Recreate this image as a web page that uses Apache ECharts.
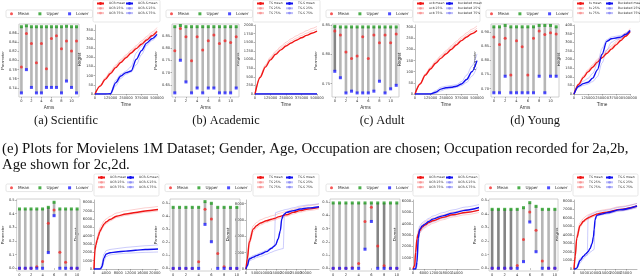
<!DOCTYPE html>
<html><head><meta charset="utf-8">
<script src="https://cdn.jsdelivr.net/npm/echarts@6/dist/echarts.min.js"></script>
<style>html,body{margin:0;padding:0;background:#fff}#c{width:640px;height:280px}</style>
</head><body><div id="c"></div><script>
// ---------------- data ----------------
const armsTop = ['0','1','2','3','4','5','6','7','8','9','10','11'];
const armsBottom = ['0','1','2','3','4','5','6','7','8','9','10'];
const boundNames = ['Mean','Upper','Lower'];

// (a) Scientific
const aUpper = [0.874,0.876,0.874,0.874,0.874,0.874,0.874,0.874,0.874,0.875,0.874,0.874];
const aMean  = [0.786,0.859,0.837,0.795,0.837,0.782,0.848,0.854,0.826,0.843,0.821,0.843];
const aLower = [0.729,0.780,0.741,0.729,0.729,0.741,0.741,0.741,0.729,0.755,0.741,0.729];
const aShade = [0,0,0,0,0,0,0,0,0,0,0,0];
const aParamTicks = [0.74,0.76,0.78,0.80,0.82,0.84,0.86];
// (b) Academic
const bUpper = [0.889,0.894,0.889,0.889,0.889,0.889,0.889,0.889,0.889,0.889,0.889,0.889];
const bMean  = [0.790,0.882,0.848,0.749,0.848,0.793,0.831,0.855,0.820,0.831,0.824,0.848];
const bLower = [0.617,0.751,0.662,0.617,0.637,0.617,0.637,0.637,0.617,0.617,0.617,0.637];
const bShade = [0,0,0,0,0,0,0,0,0,0,0,0];
const bParamTicks = [0.65,0.70,0.75,0.80,0.85];
// (c) Adult
const cUpper = [0.848,0.847,0.847,0.847,0.847,0.847,0.847,0.847,0.847,0.847,0.847,0.847];
const cMean  = [0.840,0.833,0.804,0.793,0.797,0.830,0.793,0.833,0.820,0.833,0.820,0.835];
const cLower = [0.771,0.760,0.734,0.737,0.734,0.734,0.734,0.737,0.754,0.734,0.741,0.747];
const cShade = [1,0,0,0,0,0,0,0,0,0,0,0];
const cParamTicks = [0.75,0.80,0.85];
// (d) Young
const dUpper = [0.920,0.920,0.925,0.920,0.920,0.920,0.920,0.920,0.925,0.925,0.925,0.920];
const dMean  = [0.884,0.857,0.879,0.748,0.870,0.849,0.748,0.879,0.905,0.893,0.899,0.894];
const dLower = [0.685,0.685,0.744,0.685,0.685,0.685,0.685,0.685,0.744,0.685,0.744,0.744];
const dShade = [0,0,0,0,0,0,0,0,0,0,0,0];
const dParamTicks = [0.70,0.75,0.80,0.85,0.90];
// bottom row (e1..e4)
const e1Upper = [0.434,0.434,0.434,0.434,0.434,0.446,0.483,0.434,0.434,0.434,0.434];
const e1Mean  = [0,0,0,0.012,0.049,0.329,0.427,0.117,0.044,0,0];
const e1Lower = [0,0,0,0,0,0.115,0.385,0,0,0,0];
const e1Shade = [0,0,0,0,0,1,0,0,0,0,0];
const e2Upper = [0.469,0.469,0.469,0.469,0.469,0.513,0.500,0.469,0.469,0.469,0.469];
const e2Mean  = [0,0,0,0,0.051,0.454,0.379,0.115,0.013,0,0];
const e2Lower = [0,0,0,0,0,0.338,0.205,0,0,0,0];
const e2Shade = [0,0,0,0,0,0,0,0,0,0,0];
const e3Upper = [0.495,0.495,0.495,0.495,0.495,0.495,0.495,0.495,0.495,0.495,0.495];
const e3Mean  = [0,0,0,0.005,0.0375,0.355,0.4625,0.17,0.02,0,0];
const e3Lower = [0,0,0,0,0,0.145,0.355,0,0,0,0];
const e3Shade = [0,0,0,0,0,0,0,1,1,0,0];
const e4Upper = [0.434,0.434,0.434,0.434,0.434,0.446,0.483,0.456,0.434,0.434,0.434];
const e4Mean  = [0,0,0,0,0.02,0.212,0.415,0.28,0.054,0,0];
const e4Lower = [0,0,0,0,0,0.049,0.341,0.122,0,0,0];
const e4Shade = [1,1,1,1,0,0,0,0,0,0,0];
const eParamTicks = [0,0.1,0.2,0.3,0.4,0.5];

// regret curves (time in % of horizon)
const timeTop = [0,8.33,16.67,25,33.33,41.67,50,58.33,66.67,75,83.33,91.67,100];
const timeTopTicks = [0,25,50,75,100];
const timeTopLabels = ['0','125000','250000','375000','500000'];

const namesA = ['UCB mean','UCB 25%','UCB 75%','UCB-S mean','UCB-S 25%','UCB-S 75%'];
const aRegMean = [0,43,80,112,144,172,198,224,248,272,295,318,342];
const aReg25   = [0,45,85,118,150,180,206,232,256,280,304,327,352];
const aReg75   = [0,48,90,125,158,188,214,240,265,290,314,338,363];
const aSMean   = [0,0,0,1,61,98,117,126,190,237,278,302,326];
const aS25     = [0,0,0,0,45,85,108,120,160,215,265,292,315];
const aS75     = [0,0,0,2,75,108,125,150,225,262,292,312,335];
const aRegTicks = [0,50,100,150,200,250,300,350];

const namesB = ['TS mean','TS 25%','TS 75%','TS-S mean','TS-S 25%','TS-S 75%'];
const bRegMean = [0,480,780,990,1150,1280,1390,1480,1560,1630,1700,1760,1820];
const bReg25   = [0,500,810,1030,1195,1330,1445,1540,1620,1695,1765,1830,1890];
const bReg75   = [0,520,840,1070,1240,1380,1500,1600,1685,1760,1835,1900,1960];
const bSMean   = [0,0,0,0,0,0,0,0,0,0,0,0,0];
const bS25     = [0,0,0,0,0,0,0,0,0,0,0,0,0];
const bS75     = [0,4,6,8,8,9,10,10,10,11,11,12,12];
const bRegTicks = [0,250,500,750,1000,1250,1500,1750,2000];

const namesC = ['ucb mean','ucb 25%','ucb 75%','bucketed mean','bucketed 25%','bucketed 75%'];
const cRegMean = [0,45,85,112,138,160,180,200,220,240,256,271,285];
const cReg25   = [0,47,88,117,144,167,188,209,229,249,266,281,296];
const cReg75   = [0,49,91,121,149,173,195,216,237,257,275,291,306];
const cSMean   = [0,0,0,0,8,22,28,30,35,45,65,100,150];
const cS25     = [0,0,0,0,3,14,22,25,30,38,52,80,120];
const cS75     = [0,0,0,1,15,30,35,38,42,55,85,125,180];
const cRegTicks = [0,50,100,150,200,250,300];

const namesD = ['ts mean','ts 25%','ts 75%','Bucketed mean','Bucketed 25%','Bucketed 75%'];
const dRegMean = [0,55,95,128,155,185,210,235,260,285,310,335,362];
const dReg25   = [0,58,100,134,162,193,219,244,269,294,319,344,370];
const dReg75   = [0,62,106,141,170,201,228,254,279,304,329,354,380];
const dSMean   = [0,45,60,68,92,140,230,305,320,325,330,345,368];
const dS25     = [0,38,50,58,72,100,180,255,300,315,322,338,362];
const dS75     = [0,55,75,90,120,175,265,315,330,335,340,352,372];
const dRegTicks = [0,50,100,150,200,250,300,350,400];

const namesE1 = ['UCB mean','UCB 25%','UCB 75%','UCB-S mean','UCB-S 25%','UCB-S 75%'];
const timeE1 = [0,1.5,3,5,7,9,10.5,12.5,15.5,19,25,35,50,65,80,100];
const e1RegMean = [0,2300,2900,3500,4000,4500,4700,5000,5400,5650,5950,6350,6620,6800,6980,7150];
const e1Reg25   = [0,2100,2700,3300,3800,4300,4500,4800,5200,5450,5780,6180,6450,6640,6820,6990];
const e1Reg75   = [0,2600,3250,3850,4380,4880,5080,5380,5780,6030,6330,6730,7000,7180,7360,7530];
const e1SMean   = [0,0,0,0,0,0,50,300,1300,1800,1950,2050,2150,2250,2350,2400];
const e1S25     = [0,0,0,0,0,0,0,100,900,1500,1700,1800,1900,1950,2000,2050];
const e1S75     = [0,0,0,0,0,20,200,700,1800,2200,2350,2450,2600,2700,2800,2900];
const e1TimeTicks = [0,19,38,57,76,95];
const e1TimeLabels = ['0','4000','8000','12000','16000','20000'];
const e1RegTicks = [0,1000,2000,3000,4000,5000,6000,7000,8000];

const namesE2 = ['TS mean','TS 25%','TS 75%','TS-S mean','TS-S 25%','TS-S 75%'];
const timeE2 = [0,1.8,4.5,10,14.5,20,28,35,38.6,40.5,44,47,49,51,52.7,55.5,65,74,85,100];
const e2RegMean = [0,1224,3300,4898,5300,5633,5900,6100,6180,6230,6380,6450,6500,6550,6600,6650,6939,7150,7350,7551];
const e2Reg25   = [0,1000,3000,4600,5050,5400,5700,5900,5980,6030,6180,6250,6300,6350,6400,6450,6740,6950,7150,7350];
const e2Reg75   = [0,1500,3700,5300,5700,6030,6300,6500,6580,6630,6780,6850,6900,6950,7000,7050,7330,7550,7750,7950];
const e2SMean   = [0,400,1224,1450,1632,1820,2122,2550,2800,2950,3673,4694,6122,6550,6734,6939,7150,7350,7480,7630];
const e2S25     = [0,300,1000,1200,1400,1550,1800,2050,2200,2250,2350,2420,2470,2500,6700,6900,7050,7200,7350,7500];
const e2S75     = [0,600,1400,1650,1800,2000,2300,2600,2800,6900,7000,7100,7150,7200,7250,7300,7500,7700,7850,8000];
const e2TimeTicks = [0,13.6,27.3,40.9,54.5,68.2,81.8,95.5];
const e2TimeLabels = ['0','5000','10000','15000','20000','25000','30000','35000'];
const e2RegTicks = [0,2000,4000,6000,8000];

const namesE3 = ['UCB mean','UCB 25%','UCB 75%','UCB-S mean','UCB-S 25%','UCB-S 75%'];
const timeE3 = [0,2.5,4,6,8,10,14,18,24,30,45,60,80,100];
const e3RegMean = [0,300,1470,2650,3100,3380,3700,3880,4100,4260,4560,4790,5000,5200];
const e3Reg25   = [0,200,1200,2400,2850,3150,3450,3650,3850,4050,4350,4600,4800,5000];
const e3Reg75   = [0,400,1800,2950,3400,3650,3950,4150,4350,4500,4800,5050,5250,5450];
const e3SMean   = [0,0,0,600,2700,3500,3800,3970,4200,4410,4700,4940,5200,5440];
const e3S25     = [0,0,0,200,2200,3200,3550,3750,3980,4180,4480,4720,4980,5200];
const e3S75     = [0,0,0,1200,3100,3800,4100,4250,4480,4680,4980,5220,5480,5700];
const e3TimeTicks = [0,16.7,33.3,50,66.7,83.3];
const e3TimeLabels = ['0','6000','12000','18000','24000','30000'];
const e3RegTicks = [0,1000,2000,3000,4000,5000,6000];

const namesE4 = ['TS mean','TS 25%','TS 75%','TS-S mean','TS-S 25%','TS-S 75%'];
const timeE4 = [0,2,4.3,9.6,15,19,21,22.5,25.5,28.7,30.9,31.9,33.5,36,44,52,73,100];
const e4RegMean = [0,1500,3600,5100,5600,5850,5950,6000,6120,6220,6300,6330,6380,6450,6580,6680,7000,7400];
const e4Reg25   = [0,1300,3400,4900,5450,5700,5800,5850,5970,6070,6150,6180,6230,6300,6430,6530,6850,7250];
const e4Reg75   = [0,1800,4000,5450,5950,6200,6300,6350,6450,6550,6620,6650,6700,6780,6900,7000,7330,7700];
const e4SMean   = [0,0,100,1000,1500,1800,1950,2050,2400,3000,3800,4600,5800,6300,6450,6600,6950,7400];
const e4S25     = [0,0,50,700,1200,1500,1650,1750,1950,2150,2250,2300,6000,6200,6350,6450,6800,7200];
const e4S75     = [0,0,250,1250,1500,1600,1650,6200,6350,6450,6500,6550,6600,6700,6800,6900,7250,7700];
const e4TimeTicks = [0,16.5,33,49.5,66,82.5,99];
const e4TimeLabels = ['0','5000','10000','15000','20000','25000','30000'];
const e4RegTicks = [0,1000,2000,3000,4000,5000,6000,7000,8000];

// ---------------- layout ----------------
const leftPanels = [
  {g:{left:12,top:24,width:67,height:73}, cats:armsTop, up:aUpper, mean:aMean, low:aLower, shade:aShade, min:0.72, max:0.88, ticks:aParamTicks, dec:2, leg:{left:6,top:10}, xname:true},
  {g:{left:172,top:24,width:67,height:73}, cats:armsTop, up:bUpper, mean:bMean, low:bLower, shade:bShade, min:0.60, max:0.90, ticks:bParamTicks, dec:2, leg:{left:166,top:10}, xname:true},
  {g:{left:332,top:24,width:67,height:73}, cats:armsTop, up:cUpper, mean:cMean, low:cLower, shade:cShade, min:0.727, max:0.852, ticks:cParamTicks, dec:2, leg:{left:326,top:10}, xname:true},
  {g:{left:491,top:24,width:68,height:73}, cats:armsTop, up:dUpper, mean:dMean, low:dLower, shade:dShade, min:0.67, max:0.93, ticks:dParamTicks, dec:2, leg:{left:486,top:10}, xname:true},
  {g:{left:9,top:199,width:71,height:72}, cats:armsBottom, up:e1Upper, mean:e1Mean, low:e1Lower, shade:e1Shade, min:-0.02, max:0.507, ticks:eParamTicks, dec:1, leg:{left:6,top:184}, xname:false},
  {g:{left:170,top:199,width:70,height:72}, cats:armsBottom, up:e2Upper, mean:e2Mean, low:e2Lower, shade:e2Shade, min:-0.02, max:0.533, ticks:eParamTicks, dec:1, leg:{left:165,top:184}, xname:false},
  {g:{left:330,top:199,width:70,height:72}, cats:armsBottom, up:e3Upper, mean:e3Mean, low:e3Lower, shade:e3Shade, min:-0.02, max:0.525, ticks:eParamTicks, dec:1, leg:{left:326,top:184}, xname:false},
  {g:{left:489,top:199,width:69,height:72}, cats:armsBottom, up:e4Upper, mean:e4Mean, low:e4Lower, shade:e4Shade, min:-0.02, max:0.51, ticks:eParamTicks, dec:1, leg:{left:485,top:184}, xname:false}
];
const rightPanels = [
  {g:{left:95,top:25,width:62,height:69}, t:timeTop, lines:[aRegMean,aReg25,aReg75,aSMean,aS25,aS75], names:namesA, max:377, yt:aRegTicks, xt:timeTopTicks, xl:timeTopLabels, box:{x:93,y:0,w:67,h:22}, xname:true},
  {g:{left:255,top:25,width:62,height:69}, t:timeTop, lines:[bRegMean,bReg25,bReg75,bSMean,bS25,bS75], names:namesB, max:2000, yt:bRegTicks, xt:timeTopTicks, xl:timeTopLabels, box:{x:253,y:0,w:67,h:22}, xname:true},
  {g:{left:415,top:25,width:62,height:69}, t:timeTop, lines:[cRegMean,cReg25,cReg75,cSMean,cS25,cS75], names:namesC, max:310, yt:cRegTicks, xt:timeTopTicks, xl:timeTopLabels, box:{x:413,y:0,w:67,h:22}, xname:true},
  {g:{left:574,top:25,width:63,height:69}, t:timeTop, lines:[dRegMean,dReg25,dReg75,dSMean,dS25,dS75], names:namesD, max:400, yt:dRegTicks, xt:timeTopTicks, xl:timeTopLabels, box:{x:573,y:0,w:67,h:22}, xname:true},
  {g:{left:94,top:200,width:64,height:69}, t:timeE1, lines:[e1RegMean,e1Reg25,e1Reg75,e1SMean,e1S25,e1S75], names:namesE1, max:8300, yt:e1RegTicks, xt:e1TimeTicks, xl:e1TimeLabels, box:{x:94,y:174,w:65,h:22}, xname:false},
  {g:{left:246,top:200,width:73,height:69}, t:timeE2, lines:[e2RegMean,e2Reg25,e2Reg75,e2SMean,e2S25,e2S75], names:namesE2, max:8450, yt:e2RegTicks, xt:e2TimeTicks, xl:e2TimeLabels, box:{x:253,y:174,w:66,h:22}, xname:false},
  {g:{left:413,top:200,width:66,height:69}, t:timeE3, lines:[e3RegMean,e3Reg25,e3Reg75,e3SMean,e3S25,e3S75], names:namesE3, max:6100, yt:e3RegTicks, xt:e3TimeTicks, xl:e3TimeLabels, box:{x:413,y:174,w:66,h:22}, xname:false},
  {g:{left:574,top:200,width:63,height:69}, t:timeE4, lines:[e4RegMean,e4Reg25,e4Reg75,e4SMean,e4S25,e4S75], names:namesE4, max:8100, yt:e4RegTicks, xt:e4TimeTicks, xl:e4TimeLabels, box:{x:573,y:174,w:65,h:22}, xname:false}
];

const RED='#f01414', RED_L='rgba(240,40,40,0.28)', BLUE='#1010f0', BLUE_L='rgba(40,40,240,0.3)';
const lineColors=[RED,RED_L,RED_L,BLUE,BLUE_L,BLUE_L];
const lineWidths=[1.4,0.8,0.8,1.4,0.8,0.8];
const tickFont = {fontSize:3.6, color:'#333', fontFamily:'DejaVu Sans'};
const grids=[], xAxes=[], yAxes=[], series=[], legends=[], graphics=[];

leftPanels.forEach((p)=>{
  const gi = grids.length;
  grids.push(Object.assign({show:true, borderColor:'#c4c4c4', borderWidth:0.8, backgroundColor:'#fff'}, p.g));
  xAxes.push({type:'category', gridIndex:gi, data:p.cats, boundaryGap:true,
    axisLine:{show:false}, axisTick:{show:true, alignWithLabel:true, interval:1, length:1.5, lineStyle:{color:'#666',width:0.5}},
    axisLabel:Object.assign({interval:1, margin:2}, tickFont), splitLine:{show:false},
    name:p.xname?'Arms':'', nameLocation:'middle', nameGap:8, nameTextStyle:{fontSize:4.5, color:'#333'}});
  yAxes.push({type:'value', gridIndex:gi, min:p.min, max:p.max,
    axisLine:{show:false}, axisTick:{show:true, length:1.5, customValues:p.ticks, lineStyle:{color:'#666',width:0.5}},
    axisLabel:Object.assign({margin:2, customValues:p.ticks, formatter:(v)=>v.toFixed(p.dec)}, tickFont), splitLine:{show:false},
    name:'Parameter', nameLocation:'middle', nameGap:11, nameTextStyle:{fontSize:4, color:'#333'}});
  const ax = xAxes.length-1;
  series.push({type:'custom', xAxisIndex:ax, yAxisIndex:ax, z:1, silent:true,
    data:p.cats.map((c,k)=>[k,p.low[k],p.up[k],p.shade[k]]),
    encode:{x:0,y:[1,2]},
    renderItem:(params,api)=>{
      const a=api.coord([api.value(0),api.value(1)]), b=api.coord([api.value(0),api.value(2)]);
      return {type:'rect', shape:{x:a[0]-1.3, y:b[1], width:2.6, height:a[1]-b[1]}, style:{fill: api.value(3)?'#858585':'#b6b6b6'}};
    }});
  series.push({type:'scatter', name:'Mean', xAxisIndex:ax, yAxisIndex:ax, z:3, symbol:'circle', symbolSize:3,
    itemStyle:{color:'#f42a2a'}, data:p.mean.map((v,k)=>[k,v])});
  series.push({type:'scatter', name:'Upper', xAxisIndex:ax, yAxisIndex:ax, z:3, symbol:'rect', symbolSize:3,
    itemStyle:{color:'#1f9a1f'}, data:p.up.map((v,k)=>[k,v])});
  series.push({type:'scatter', name:'Lower', xAxisIndex:ax, yAxisIndex:ax, z:4, symbol:'rect', symbolSize:3,
    itemStyle:{color:'#2020ff'}, data:p.low.map((v,k)=>[k,v])});
  legends.push({data:boundNames, left:p.leg.left, top:p.leg.top, orient:'horizontal', itemGap:9, itemWidth:3, itemHeight:3,
    textStyle:{fontSize:4.2, color:'#333', fontFamily:'DejaVu Sans'}, borderColor:'#d4d4d4', borderWidth:0.6, borderRadius:1.5, padding:[1.8,4], backgroundColor:'#fff', selectedMode:false});
});

rightPanels.forEach((p)=>{
  const gi = grids.length;
  grids.push(Object.assign({show:false}, p.g));
  const fmt=(v)=>{let bi=0,bd=1e9;p.xt.forEach((t,i)=>{const d=Math.abs(t-v);if(d<bd){bd=d;bi=i;}});return p.xl[bi];};
  xAxes.push({type:'value', gridIndex:gi, min:0, max:100,
    axisLine:{show:true, lineStyle:{color:'#aaa', width:0.8}},
    axisTick:{show:true, length:1.5, customValues:p.xt, lineStyle:{color:'#666',width:0.5}},
    axisLabel:Object.assign({margin:2, customValues:p.xt, formatter:fmt}, tickFont), splitLine:{show:false},
    name:p.xname?'Time':'', nameLocation:'middle', nameGap:8, nameTextStyle:{fontSize:4.8, color:'#333'}});
  yAxes.push({type:'value', gridIndex:gi, min:0, max:p.max,
    axisLine:{show:true, lineStyle:{color:'#aaa', width:0.8}},
    axisTick:{show:true, length:1.5, customValues:p.yt, lineStyle:{color:'#666',width:0.5}},
    axisLabel:Object.assign({margin:2, customValues:p.yt, formatter:(v)=>String(v)}, tickFont), splitLine:{show:false},
    name:'Regret', nameLocation:'middle', nameGap:12, nameTextStyle:{fontSize:4.5, color:'#333'}});
  const ax = xAxes.length-1;
  p.lines.forEach((arr,li)=>{
    series.push({type:'line', name:p.names[li], xAxisIndex:ax, yAxisIndex:ax, symbol:'none', smooth:0.3, smoothMonotone:'x',
      z: li===0||li===3 ? 3 : 2, lineStyle:{color:lineColors[li], width:lineWidths[li]}, itemStyle:{color:lineColors[li]},
      data:p.t.map((t,k)=>[t,arr[k]])});
  });
  graphics.push({type:'rect', shape:{x:p.box.x, y:p.box.y, width:p.box.w, height:p.box.h, r:1.5}, z:5,
    style:{fill:'rgba(255,255,255,0.9)', stroke:'#d6d6d6', lineWidth:0.6}});
  const lg = {orient:'vertical', top:p.box.y+2, itemGap:1.8, itemWidth:7, itemHeight:3.5, padding:0, z:10,
    textStyle:{fontSize:3.1, color:'#333', fontFamily:'DejaVu Sans'}, selectedMode:false};
  legends.push(Object.assign({}, lg, {data:p.names.slice(0,3), left:p.box.x+3}));
  legends.push(Object.assign({}, lg, {data:p.names.slice(3,6), left:p.box.x+32}));
});

// captions
const subFont = {fontSize:12.3, fontFamily:'Liberation Serif', fill:'#111'};
const capFont = {fontSize:14.8, fontFamily:'Liberation Serif', fill:'#111'};
[['(a) Scientific',66],['(b) Academic',226],['(c) Adult',382],['(d) Young',535]].forEach(([t,x])=>{
  graphics.push({type:'text', x:x, y:121, style:Object.assign({text:t, align:'center', verticalAlign:'middle'}, subFont)});
});
graphics.push({type:'text', x:2, y:149, style:Object.assign({text:'(e) Plots for Movielens 1M Dataset; Gender, Age, Occupation are chosen; Occupation recorded for 2a,2b,', align:'left', verticalAlign:'middle'}, capFont)});
graphics.push({type:'text', x:2, y:165, style:Object.assign({text:'Age shown for 2c,2d.', align:'left', verticalAlign:'middle'}, capFont)});

const chart = echarts.init(document.getElementById('c'), null, {renderer:'canvas'});
chart.setOption({animation:false, backgroundColor:'#fff', grid:grids, xAxis:xAxes, yAxis:yAxes, series:series, legend:legends, graphic:graphics});
</script></body></html>
